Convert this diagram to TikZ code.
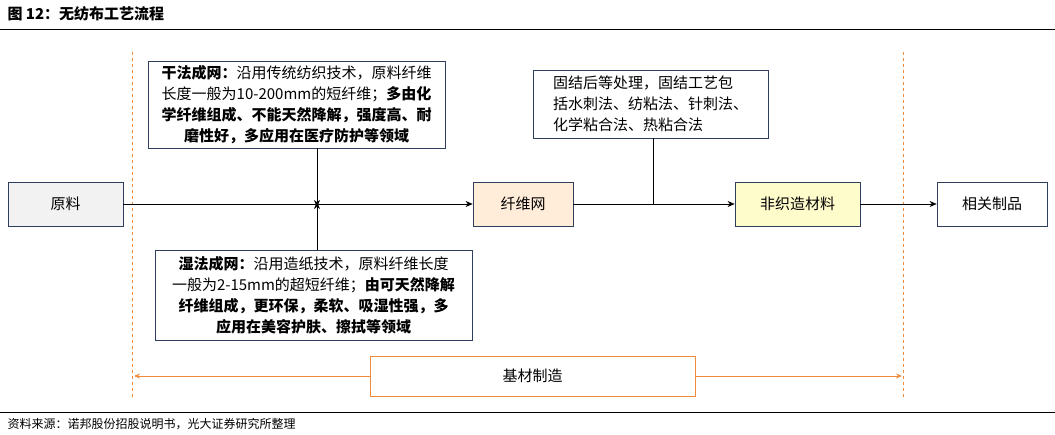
\documentclass[tikz,border=0pt]{standalone}
\usepackage{fontspec}
\setmainfont{Noto Sans CJK SC}
\usetikzlibrary{arrows.meta}
\definecolor{nav}{HTML}{2F3E5C}
\definecolor{org}{HTML}{F08A3C}
\tikzset{bx/.style={draw=nav,line width=0.8pt,inner sep=0pt,font=\fontsize{15}{21}\selectfont},
 txt/.style={bx,align=center},
 ar/.style={-{Stealth[length=7pt,width=6pt]},line width=0.6pt},
 og/.style={draw=org,line width=0.7pt}}
\begin{document}
\begin{tikzpicture}[x=1pt,y=-1pt]
\useasboundingbox (0,0) rectangle (1055,435);
\node[anchor=west,font=\bfseries\fontsize{15}{18}\selectfont] (title) at (4,14) {图 12：无纺布工艺流程};
\draw[line width=1pt] (0,30) -- (1055,30);
\draw[line width=1pt] (0,413) -- (1055,413);
\node[anchor=west,font=\fontsize{12}{14}\selectfont] (src) at (4,424) {资料来源：诺邦股份招股说明书，光大证券研究所整理};
\draw[og,dashed,line width=0.4pt] (132,52) -- (132,400);
\draw[og,dashed,line width=0.4pt] (903,52) -- (903,400);
\node[bx,fill=black!5,minimum width=115,minimum height=44] (yl) at (65.5,204) {原料};
\node[bx,fill=orange!15,minimum width=100,minimum height=44] (xw) at (523,204) {纤维网};
\node[bx,fill=yellow!20,minimum width=125,minimum height=44] (fz) at (797.5,204) {非织造材料};
\node[bx,minimum width=110,minimum height=44] (xg) at (992,204) {相关制品};
\node[txt,minimum width=297,minimum height=87] (gf) at (296.5,104.5) {\textbf{干法成网：}沿用传统纺织技术，原料纤维\\长度一般为10-200mm的短纤维；\textbf{多由化}\\\textbf{学纤维组成、不能天然降解，强度高、耐}\\\textbf{磨性好，多应用在医疗防护等领域}};
\node[txt,minimum width=317,minimum height=90] (sf) at (313.5,295) {\textbf{湿法成网：}沿用造纸技术，原料纤维长度\\一般为2-15mm的超短纤维；\textbf{由可天然降解}\\\textbf{纤维组成，更环保，柔软、吸湿性强，多}\\\textbf{应用在美容护肤、擦拭等领域}\hspace{5.5em}};
\node[bx,align=left,minimum width=235,minimum height=68] (gj) at (650.5,104) {固结后等处理，固结工艺包\\括水刺法、纺粘法、针刺法、\\化学粘合法、热粘合法};
\coordinate (m1) at (317,205);
\coordinate (m2) at (653,205);
\draw[ar] (yl) -- (xw);
\draw[ar] (xw) -- (fz);
\draw[ar] (fz) -- (xg);
\draw[ar] (gf.south -| m1) -- ([yshift=-2]m1);
\draw[ar] (sf.north -| m1) -- ([yshift=3]m1);
\draw[line width=0.6pt] (gj.south -| m2) -- (m2);
\node[og,minimum width=325,minimum height=40,font=\fontsize{15}{18}\selectfont] (jc) at (532.5,376) {基材制造};
\coordinate (la) at (134,376);
\coordinate (ra) at (902,376);
\draw[og,-{Stealth[length=6pt,width=5pt]}] (jc.west) -- (la);
\draw[og,-{Stealth[length=6pt,width=5pt]}] (jc.east) -- (ra);
\end{tikzpicture}
\end{document}
